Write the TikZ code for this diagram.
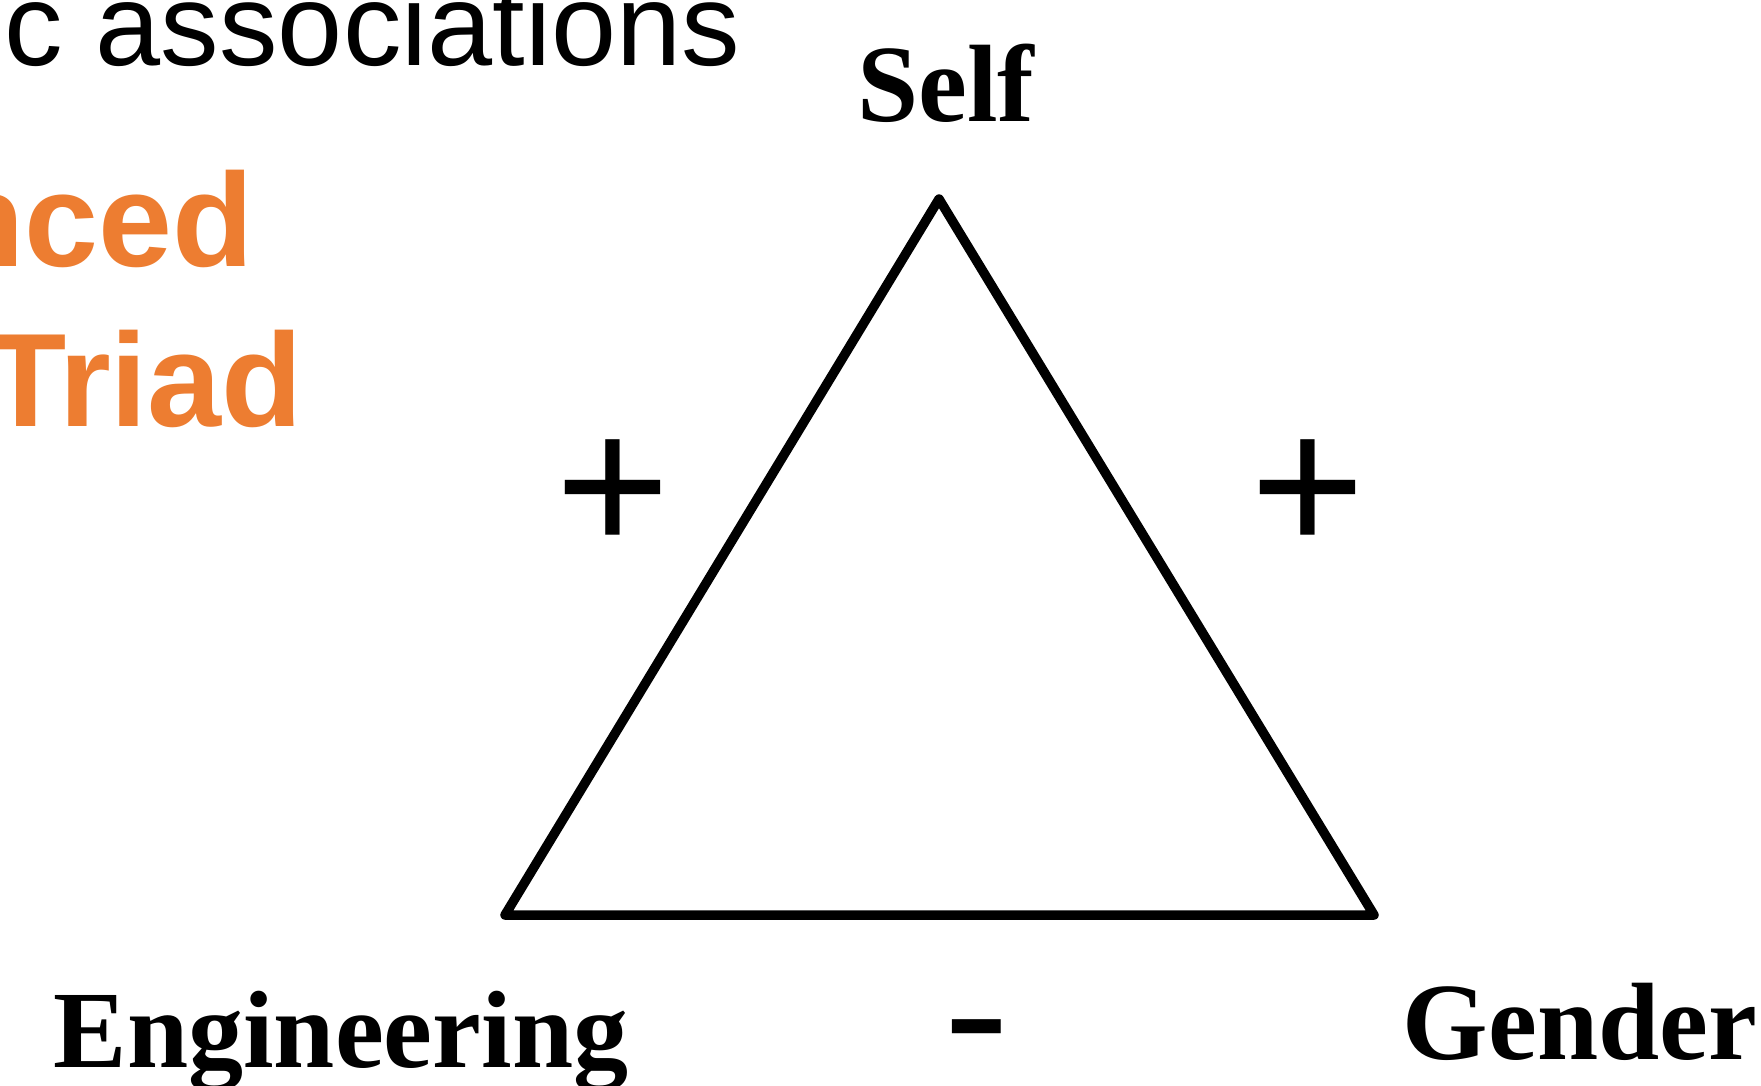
\documentclass[tikz,border=0pt]{standalone}
\usepackage{fontspec}
\setmainfont{Liberation Serif}
\newfontfamily\arialf{Liberation Sans}
\definecolor{accentorange}{HTML}{ED7D31}
\begin{document}
\begin{tikzpicture}[x=1pt,y=-1pt,
  lbl/.style={inner sep=0pt,outer sep=0pt,font=\fontsize{110}{112}\selectfont\bfseries},
  sign/.style={inner sep=0pt,outer sep=0pt},
  edge/.style={line width=9.5pt,line join=round,line cap=round}]
\useasboundingbox (0,0) rectangle (1761,1085);
\fill[white] (0,0) rectangle (1761,1085);
% heading fragments
\node[sign,anchor=base west,font=\arialf\fontsize{117}{120}\selectfont] (head) at (5,65) {c associations};
\node[sign,anchor=base east,text=accentorange,font=\arialf\fontsize{133}{135}\selectfont\bfseries] (bal) at (254,266) {nced};
\node[sign,anchor=base east,text=accentorange,font=\arialf\fontsize{133}{135}\selectfont\bfseries] (triad) at (303,426) {Triad};
% triangle
\coordinate (apex) at (939,199);
\coordinate (bl) at (505,915);
\coordinate (br) at (1374,915);
\draw[edge] (apex) -- (br) -- (bl) -- cycle;
% labels
\node[lbl,anchor=base] (self) at (946,121) {Self};
\node[lbl,anchor=base] (eng) at (341,1067) {Engineering};
\node[lbl,anchor=base] (gen) at (1580,1059) {Gender};
\node[sign,anchor=base,font=\fontsize{205}{205}\selectfont\bfseries] (pl) at (613,555) {+};
\node[sign,anchor=base,font=\fontsize{205}{205}\selectfont\bfseries] (pr) at (1308,555) {+};
\node[sign,anchor=base,font=\arialf\fontsize{200}{200}\selectfont] (mi) at (977,1074) {\scalebox{1}[0.9]{-}};
\end{tikzpicture}
\end{document}
